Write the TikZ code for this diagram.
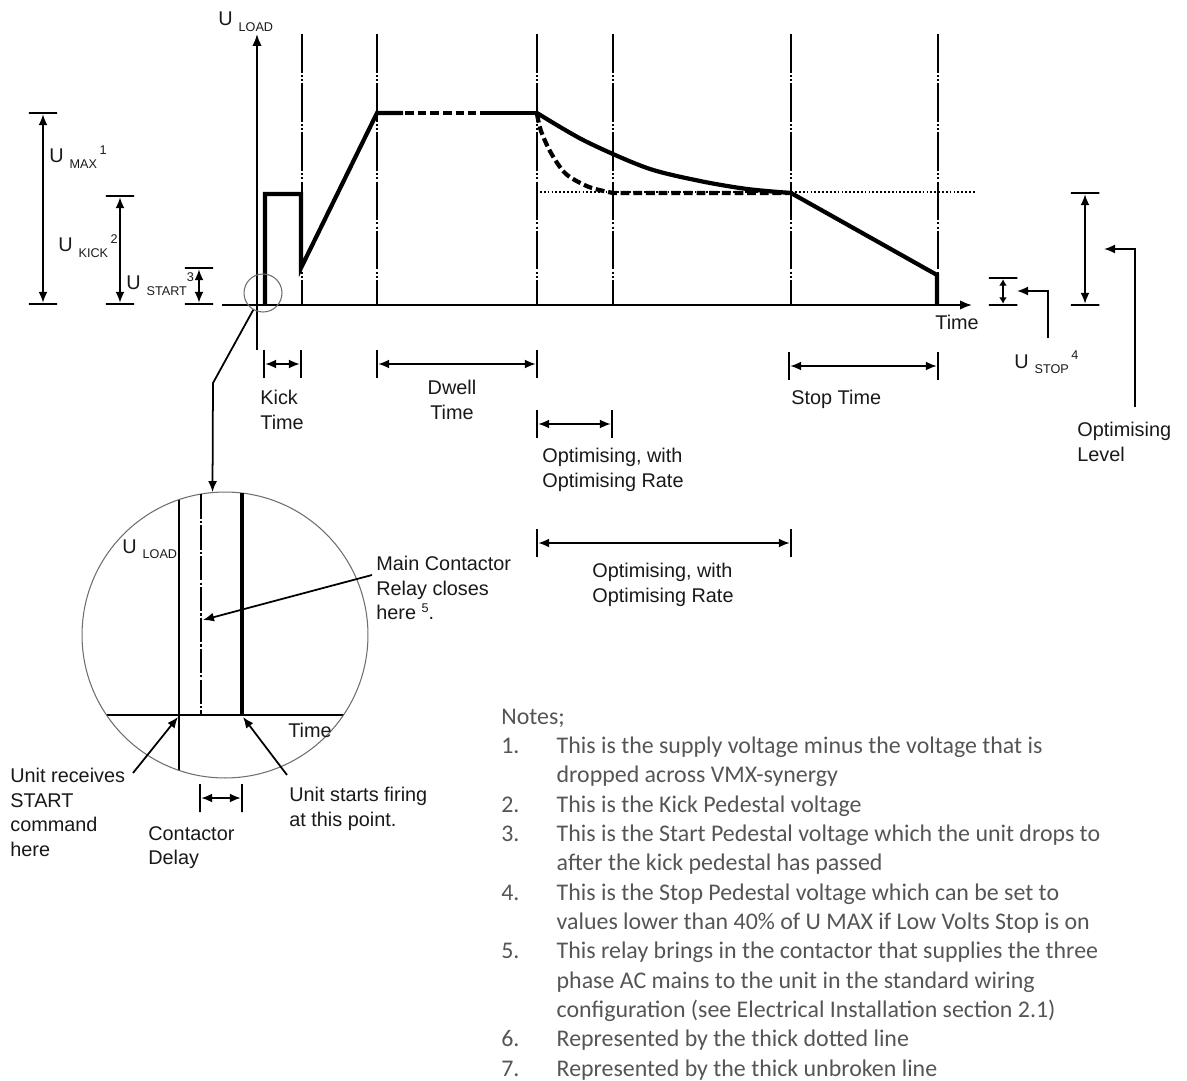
\documentclass[tikz,border=0pt]{standalone}
\usepackage{fontspec}
\setmainfont{Liberation Sans}
\newfontfamily\notesfont{Carlito}
\definecolor{InkBlack}{RGB}{25,25,25}
\definecolor{NoteGray}{RGB}{85,85,85}
\definecolor{RingGray}{RGB}{110,110,110}
\usetikzlibrary{arrows.meta, positioning, calc}
\newcommand{\Usym}[2]{U\hspace{0.3em}\raisebox{-3.4pt}{\fontsize{7.2}{8}\selectfont #1}\raisebox{4.6pt}{\fontsize{7.2}{8}\selectfont\hspace{0.2em}#2}}

\begin{document}
\begin{tikzpicture}[x=0.02cm, y=-0.02cm,
    axisline/.style={line width=1.1pt},
    trace/.style={line width=2.4pt},
    dashtrace/.style={line width=2.4pt, dash pattern=on 5pt off 2.2pt},
    guide/.style={line width=0.7pt, dash pattern=on 22pt off 1.2pt on 1.2pt off 1.2pt on 1.2pt off 1.2pt},
    hbar/.style={draw, line width=1.4pt, rectangle, minimum width=0.57cm, minimum height=0pt, inner sep=0pt},
    vbar/.style={draw, line width=1.4pt, rectangle, minimum height=0.56cm, minimum width=0pt, inner sep=0pt},
    dimarrow/.style={line width=1pt, {Latex[length=2.2mm,width=1.8mm]}-{Latex[length=2.2mm,width=1.8mm]}},
    ptr/.style={line width=1pt, -{Latex[length=2.2mm,width=1.8mm]}},
    lab/.style={text=InkBlack, font=\fontsize{11.3}{13.9}\selectfont, align=left, inner sep=0pt},
    ring/.style={circle, draw=RingGray, line width=0.6pt, inner sep=0pt}]
  \useasboundingbox (0,0) rectangle (1187,1081);

  % guide lines
  \draw[guide] (302,34) -- (302,305);
  \draw[guide] (377,34) -- (377,305);
  \draw[guide, line width=1.5pt] (537,34) -- (537,305);
  \draw[guide] (613,34) -- (613,305);
  \draw[guide, line width=1.5pt] (791,34) -- (791,305);
  \draw[guide] (938,34) -- (938,305);
  \draw[line width=0.8pt, dash pattern=on 1pt off 1.2pt] (540,192) -- (975,192);

  % load voltage
  \draw[trace] (265,305) -- (265,194) -- (301,194) -- (301,268) -- (377,113) -- (403,113);
  \draw[dashtrace] (405,113) -- (476,113);
  \draw[trace] (480,113) -- (537,113);
  \draw[trace] plot[smooth] coordinates {(537,113) (585,141) (647,168) (700,181) (747,189) (791,193)}
    -- (937,275) -- (937,305);
  \draw[dashtrace] plot[smooth] coordinates {(537,114) (541,131) (551,153) (566,174) (589,187) (613,193)}
    -- (789,193);

  % axes
  \draw[axisline, -{Latex[length=2.4mm,width=1.9mm]}] (222,305) -- (972,305);
  \draw[axisline, -{Latex[length=2.4mm,width=1.9mm]}] (257,350) -- (257,34);
  \node[lab, anchor=base west] (uload) at (218,26) {\Usym{LOAD}{}};
  \node[lab, anchor=north west] (timelab) at (935,315) {Time};

  % voltage levels
  \node[hbar] (maxtop) at (43,113) {};
  \node[hbar] (maxbot) at (43,304) {};
  \draw[dimarrow] (maxtop) -- (maxbot);
  \node[lab, anchor=base west] (umax) at (49,163) {\Usym{MAX}{1}};
  \node[hbar] (kicktop) at (120,196) {};
  \node[hbar] (kickbot) at (120,304) {};
  \draw[dimarrow] (kicktop) -- (kickbot);
  \node[lab, anchor=base west] (ukick) at (58,252) {\Usym{KICK}{2}};
  \node[hbar] (starttop) at (199,268) {};
  \node[hbar] (startbot) at (199,304) {};
  \draw[dimarrow] (starttop) -- (startbot);
  \node[lab, anchor=base west] (ustart) at (126,290) {U\hspace{0.3em}\raisebox{-3.4pt}{\fontsize{7.2}{8}\selectfont START}\raisebox{4.6pt}{\fontsize{7.2}{8}\selectfont 3}};
  \node[hbar] (stoptop) at (1003,278) {};
  \node[hbar] (stopbot) at (1003,305) {};
  \draw[line width=1pt, {Latex[length=1.3mm,width=1.6mm]}-{Latex[length=1.3mm,width=1.6mm]}] (stoptop) -- (stopbot);
  \node[lab, anchor=base west] (ustop) at (1014,368) {\Usym{STOP}{4}};
  \coordinate (stoptail) at (1048,338);
  \coordinate (stophead) at (1017,291);
  \draw[ptr] (stoptail) |- (stophead);
  \node[hbar] (levtop) at (1085,193) {};
  \node[hbar] (levbot) at (1085,305) {};
  \draw[dimarrow] (levtop) -- (levbot);
  \coordinate (levtail) at (1135,407);
  \coordinate (levhead) at (1104,249);
  \draw[ptr] (levtail) |- (levhead);
  \node[lab, anchor=north west] (levlab) at (1077,422) {Optimising\\Level};

  % time spans
  \node[vbar] (kickl) at (264,364) {};
  \node[vbar] (kickr) at (301,364) {};
  \draw[dimarrow] (kickl) -- (kickr);
  \node[lab, anchor=north west] (kicklab) at (260,390) {Kick\\Time};
  \node[vbar] (dwelll) at (377,364) {};
  \node[vbar] (dwellr) at (537,364) {};
  \draw[dimarrow] (dwelll) -- (dwellr);
  \node[lab, anchor=north, align=center] (dwelllab) at (452,380) {Dwell\\Time};
  \node[vbar] (opta) at (537,424) {};
  \node[vbar] (optb) at (612,424) {};
  \draw[dimarrow] (opta) -- (optb);
  \node[lab, anchor=north west] (optlab) at (542,448) {Optimising, with\\Optimising Rate};
  \node[vbar] (optc) at (537,543) {};
  \node[vbar] (optd) at (791,543) {};
  \draw[dimarrow] (optc) -- (optd);
  \node[lab, anchor=north west] (optlongl) at (592,563) {Optimising, with\\Optimising Rate};
  \node[vbar] (stopl) at (789,366) {};
  \node[vbar] (stopr) at (938,366) {};
  \draw[dimarrow] (stopl) -- (stopr);
  \node[lab, anchor=north west] (stoplab) at (791,390) {Stop Time};

  % close-up of the start
  \node[ring, minimum size=0.76cm] (spot) at (263,293) {};
  \node[ring, minimum size=5.72cm] (zoom) at (225,635) {};
  \coordinate (bend) at (213,383);
  \draw[ptr] (spot.240) -- (bend) -- (zoom.95);
  \begin{scope}
    \clip (zoom.center) circle [radius=142.5];
    \draw[axisline] (80,715) -- (370,715);
    \draw[axisline] (179,480) -- (179,790);
  \end{scope}
  \draw[guide, line width=1.3pt, dash pattern=on 14pt off 1.2pt on 1.2pt off 1.2pt] (201,494) -- (201,715);
  \draw[line width=2pt] (242,493) -- (242,715);
  \node[lab, anchor=base west] (zuload) at (122,553) {\Usym{LOAD}{}};
  \node[lab, anchor=north west] (ztime) at (288,723) {Time};
  \node[lab, anchor=north west] (relaylab) at (376,556) {Main Contactor\\Relay closes\\here \raisebox{4pt}{\fontsize{7.2}{8}\selectfont 5}.};
  \coordinate (relaytail) at (372,575);
  \coordinate (relayhead) at (203,620);
  \draw[ptr] (relaytail) -- (relayhead);
  \node[lab, anchor=north west] (startlab) at (10,768) {Unit receives\\START\\command\\here};
  \coordinate (starttail) at (133,773);
  \coordinate (starthead) at (178,717);
  \draw[ptr] (starttail) -- (starthead);
  \node[lab, anchor=north west] (firelab) at (289,787) {Unit starts firing\\at this point.};
  \coordinate (firetail) at (287,775);
  \coordinate (firehead) at (243,717);
  \draw[ptr] (firetail) -- (firehead);
  \node[vbar] (delayl) at (200,798) {};
  \node[vbar] (delayr) at (242,798) {};
  \draw[dimarrow] (delayl) -- (delayr);
  \node[lab, anchor=north west] (delaylab) at (148,826) {Contactor\\Delay};

  % notes
  \node[anchor=base west, inner sep=0pt, text=NoteGray, font=\notesfont\fontsize{13.6}{16.7}\selectfont] (notes) at (501,724) {%
    \begin{tabular}[t]{@{}p{31.5pt}@{}l@{}}
      \multicolumn{2}{@{}l@{}}{Notes;}\\
      1. & This is the supply voltage minus the voltage that is\\
         & dropped across VMX-synergy\\
      2. & This is the Kick Pedestal voltage\\
      3. & This is the Start Pedestal voltage which the unit drops to\\
         & after the kick pedestal has passed\\
      4. & This is the Stop Pedestal voltage which can be set to\\
         & values lower than 40\% of U MAX if Low Volts Stop is on\\
      5. & This relay brings in the contactor that supplies the three\\
         & phase AC mains to the unit in the standard wiring\\
         & configuration (see Electrical Installation section 2.1)\\
      6. & Represented by the thick dotted line\\
      7. & Represented by the thick unbroken line
    \end{tabular}};
\end{tikzpicture}
\end{document}
